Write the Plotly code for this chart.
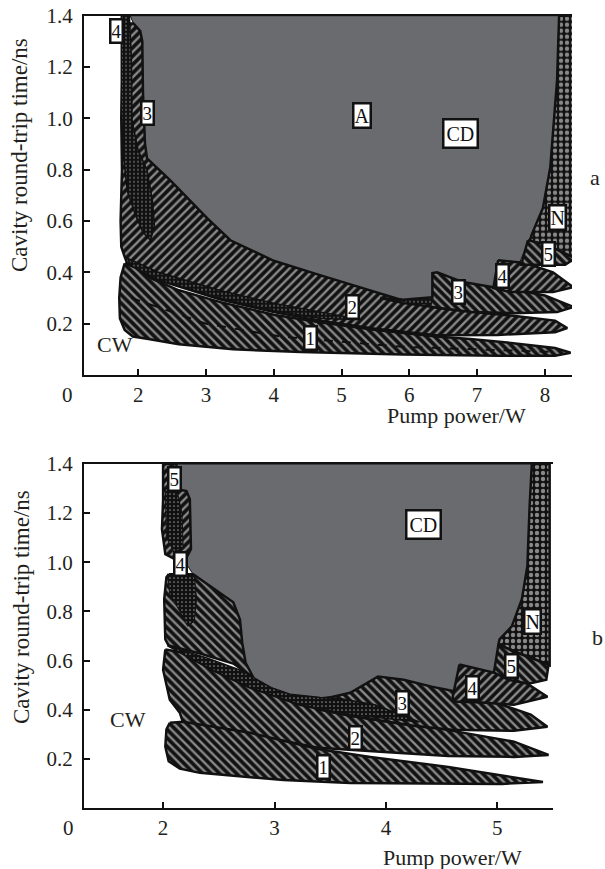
import plotly.graph_objects as go

# ---------------- data ----------------
# Panel a  (x: pump power / W, y: cavity round-trip time / ns)
GRAY_A_X = [1.88, 8.21, 8.18, 8.08, 7.97, 7.81, 7.74, 7.63, 7.31, 7.24, 6.79, 6.41, 6.34, 6.34, 5.91, 5.42, 4.68, 4.0, 3.36, 3.02, 2.47, 2.13, 2.10, 2.07, 2.06, 2.03, 1.93]
GRAY_A_Y = [1.40, 1.40, 1.15, 0.81, 0.65, 0.55, 0.51, 0.44, 0.447, 0.34, 0.362, 0.40, 0.397, 0.303, 0.29, 0.33, 0.389, 0.445, 0.525, 0.61, 0.759, 0.844, 0.90, 1.10, 1.30, 1.34, 1.37]

BAND2_A_X = [1.80, 1.86, 1.93, 2.03, 2.06, 2.07, 2.10, 2.13, 2.47, 3.02, 3.36, 4.0, 4.68, 5.42, 5.91, 6.4, 6.94, 7.5, 8.15, 8.33, 8.15, 7.3, 6.4, 5.5, 4.7, 4.0, 3.2, 2.3, 1.86, 1.80, 1.75, 1.74, 1.76, 1.75, 1.77]
BAND2_A_Y = [1.36, 1.37, 1.37, 1.34, 1.30, 1.10, 0.90, 0.844, 0.759, 0.61, 0.525, 0.445, 0.389, 0.33, 0.29, 0.262, 0.245, 0.232, 0.212, 0.183, 0.167, 0.156, 0.155, 0.18, 0.21, 0.245, 0.295, 0.37, 0.42, 0.46, 0.50, 0.60, 0.80, 1.00, 1.20]

BAND1_A_X = [1.80, 1.74, 1.72, 1.73, 1.80, 1.92, 2.15, 2.6, 3.4, 4.4, 5.9, 7.3, 8.15, 8.38, 8.15, 7.5, 6.9, 6.4, 5.5, 4.7, 4.0, 3.2, 2.6, 2.2, 1.95]
BAND1_A_Y = [0.435, 0.38, 0.30, 0.22, 0.175, 0.15, 0.14, 0.12, 0.10, 0.09, 0.08, 0.075, 0.075, 0.087, 0.105, 0.125, 0.14, 0.15, 0.175, 0.205, 0.235, 0.285, 0.33, 0.375, 0.42]

DASH_A_X = [1.9, 3.0, 4.1, 5.9, 8.1]
DASH_A_Y = [0.30, 0.20, 0.15, 0.11, 0.09]

DOT_THIN_A_X = [1.84, 2.3, 3.2, 4.0, 4.7, 5.3, 4.7, 4.0, 3.2, 2.3, 1.90]
DOT_THIN_A_Y = [0.455, 0.40, 0.33, 0.28, 0.245, 0.215, 0.22, 0.25, 0.30, 0.37, 0.425]

STRIP4_A_X = [1.75, 1.87, 1.90, 1.91, 2.0, 2.13, 2.21, 2.24, 2.18, 2.07, 1.96, 1.84, 1.79, 1.75, 1.75]
STRIP4_A_Y = [1.40, 1.40, 1.23, 0.99, 0.875, 0.80, 0.68, 0.58, 0.525, 0.556, 0.623, 0.716, 0.833, 1.03, 1.23]

BAND3_A_X = [5.57, 5.91, 6.34, 6.34, 6.41, 6.79, 7.24, 7.6, 8.0, 8.42, 8.18, 7.53, 6.94, 6.4, 5.91]
BAND3_A_Y = [0.30, 0.293, 0.303, 0.397, 0.40, 0.362, 0.342, 0.33, 0.31, 0.265, 0.245, 0.241, 0.245, 0.262, 0.28]

DOT3_A_X = [5.85, 6.33, 6.33, 6.0]
DOT3_A_Y = [0.292, 0.30, 0.275, 0.28]

BAND4_A_X = [7.31, 7.71, 8.12, 8.42, 8.12, 7.49, 7.24]
BAND4_A_Y = [0.447, 0.436, 0.40, 0.342, 0.323, 0.323, 0.339]

BAND5_A_X = [7.75, 8.0, 8.45, 8.3, 7.65]
BAND5_A_Y = [0.525, 0.51, 0.455, 0.43, 0.43]

N_A_X = [8.21, 8.45, 8.45, 7.75, 7.81, 7.97, 8.08, 8.18]
N_A_Y = [1.40, 1.40, 0.44, 0.50, 0.55, 0.65, 0.81, 1.15]

LABELS_A = ["4", "3", "A", "CD", "N", "5", "4", "3", "2", "1"]
LABELS_A_X = [1.68, 2.13, 5.30, 6.75, 8.18, 8.05, 7.38, 6.73, 5.16, 4.54]
LABELS_A_Y = [1.34, 1.02, 1.01, 0.94, 0.615, 0.47, 0.385, 0.323, 0.265, 0.144]

# Panel b
GRAY_B_X = [2.12, 5.31, 5.29, 5.27, 5.22, 5.13, 5.02, 5.01, 4.97, 4.66, 4.60, 4.41, 4.16, 3.93, 3.68, 3.41, 3.14, 2.97, 2.81, 2.74, 2.71, 2.69, 2.63, 2.27, 2.2, 2.25, 2.24, 2.12]
GRAY_B_Y = [1.40, 1.40, 1.229, 0.984, 0.849, 0.739, 0.686, 0.665, 0.551, 0.584, 0.453, 0.494, 0.522, 0.535, 0.461, 0.449, 0.461, 0.49, 0.531, 0.592, 0.673, 0.767, 0.837, 0.951, 1.0, 1.053, 1.257, 1.298]

STRIP5_B_X = [2.0, 2.12, 2.12, 2.21, 2.24, 2.25, 2.22, 2.11, 2.02, 1.99, 2.0]
STRIP5_B_Y = [1.40, 1.40, 1.298, 1.29, 1.257, 1.053, 1.029, 1.012, 1.033, 1.135, 1.257]
DOT5_B_X = [2.02, 2.12, 2.17, 2.18, 2.10, 2.03]
DOT5_B_Y = [1.30, 1.30, 1.20, 1.06, 1.04, 1.10]

BLOB4_B_X = [2.05, 2.27, 2.63, 2.69, 2.71, 2.74, 2.81, 2.63, 2.33, 2.05, 2.02, 2.01, 2.03]
BLOB4_B_Y = [0.951, 0.951, 0.837, 0.767, 0.673, 0.592, 0.531, 0.588, 0.629, 0.661, 0.686, 0.849, 0.939]
DOT4_B_X = [2.04, 2.28, 2.30, 2.28, 2.22, 2.15, 2.06]
DOT4_B_Y = [0.95, 0.95, 0.85, 0.76, 0.74, 0.80, 0.87]

BAND3_B_X = [3.45, 3.68, 3.93, 4.16, 4.41, 4.68, 5.04, 5.3, 5.45, 5.15, 4.59, 4.25, 3.68, 3.4]
BAND3_B_Y = [0.445, 0.469, 0.535, 0.522, 0.494, 0.469, 0.42, 0.38, 0.331, 0.314, 0.318, 0.335, 0.375, 0.40]

DOT3_B_X = [2.04, 2.4, 2.7, 2.85, 2.97, 3.14, 3.41, 3.6, 3.9, 4.3, 3.68, 3.23, 2.78, 2.45, 2.15]
DOT3_B_Y = [0.66, 0.61, 0.56, 0.52, 0.49, 0.463, 0.45, 0.445, 0.42, 0.35, 0.38, 0.42, 0.49, 0.56, 0.635]

BAND2_B_X = [2.02, 2.15, 2.45, 2.78, 3.23, 3.68, 4.25, 4.5, 5.15, 5.46, 5.15, 4.56, 3.95, 3.39, 2.78, 2.18, 2.15, 2.06, 2.0]
BAND2_B_Y = [0.645, 0.635, 0.56, 0.49, 0.42, 0.375, 0.335, 0.322, 0.27, 0.216, 0.208, 0.212, 0.229, 0.245, 0.30, 0.345, 0.388, 0.441, 0.563]

BAND1_B_X = [2.06, 2.18, 2.78, 3.39, 3.86, 4.56, 5.41, 5.04, 3.68, 3.08, 2.33, 2.15, 2.05, 2.02, 2.03]
BAND1_B_Y = [0.347, 0.351, 0.306, 0.24, 0.208, 0.167, 0.106, 0.098, 0.102, 0.114, 0.143, 0.16, 0.19, 0.25, 0.32]

BAND4_B_X = [4.66, 4.97, 5.22, 5.45, 5.15, 4.86, 4.61, 4.60]
BAND4_B_Y = [0.584, 0.551, 0.52, 0.453, 0.42, 0.429, 0.433, 0.453]

BAND5_B_X = [5.01, 5.15, 5.46, 5.44, 5.28, 5.10, 4.97]
BAND5_B_Y = [0.665, 0.637, 0.584, 0.522, 0.506, 0.522, 0.551]

N_B_X = [5.31, 5.47, 5.47, 5.15, 5.01, 5.02, 5.13, 5.22, 5.27, 5.29]
N_B_Y = [1.40, 1.40, 0.58, 0.637, 0.665, 0.686, 0.739, 0.849, 0.984, 1.229]

LABELS_B = ["5", "4", "CD", "N", "5", "4", "3", "2", "1"]
LABELS_B_X = [2.10, 2.16, 4.34, 5.32, 5.13, 4.78, 4.15, 3.73, 3.44]
LABELS_B_Y = [1.34, 0.995, 1.155, 0.76, 0.576, 0.49, 0.429, 0.286, 0.167]

X_TICKS_A = [2, 3, 4, 5, 6, 7, 8]
X_TICKS_B = [2, 3, 4, 5]
Y_TICKS = [0.2, 0.4, 0.6, 0.8, 1.0, 1.2, 1.4]

# ---------------- styles ----------------
FONT = "Liberation Serif"
TXT = "#231f20"
INK = "#111111"
GRAY = "#6a6b6f"


def hatch(shape):
    return dict(shape=shape, bgcolor=INK, fgcolor="white", size=6, solidity=0.4)


DOTS = dict(shape=".", bgcolor=INK, fgcolor="white", size=4, solidity=0.15)
GRID = dict(shape=".", bgcolor=INK, fgcolor="white", size=6, solidity=0.42)

fig = go.Figure()


def poly(x, y, ax, pattern=None, color=None, lw=2.5):
    xa, ya = ("x", "y") if ax == "a" else ("x2", "y2")
    kw = dict(x=x + [x[0]], y=y + [y[0]], mode="lines", fill="toself",
              line=dict(color=INK, width=lw), hoverinfo="skip",
              showlegend=False, xaxis=xa, yaxis=ya)
    if pattern is not None:
        kw["fillpattern"] = pattern
        kw["fillcolor"] = pattern["bgcolor"]
    else:
        kw["fillcolor"] = color
    fig.add_trace(go.Scatter(**kw))


# panel a
poly(GRAY_A_X, GRAY_A_Y, "a", color=GRAY, lw=1)
poly(N_A_X, N_A_Y, "a", pattern=GRID)
poly(BAND2_A_X, BAND2_A_Y, "a", pattern=hatch("/"))
poly(BAND1_A_X, BAND1_A_Y, "a", pattern=hatch("\\"))
poly(DOT_THIN_A_X, DOT_THIN_A_Y, "a", pattern=DOTS, lw=1.5)
poly(STRIP4_A_X, STRIP4_A_Y, "a", pattern=DOTS, lw=1.5)
poly(BAND3_A_X, BAND3_A_Y, "a", pattern=hatch("\\"))
poly(DOT3_A_X, DOT3_A_Y, "a", pattern=DOTS, lw=1)
poly(BAND4_A_X, BAND4_A_Y, "a", pattern=hatch("/"))
poly(BAND5_A_X, BAND5_A_Y, "a", pattern=hatch("\\"))
fig.add_trace(go.Scatter(x=DASH_A_X, y=DASH_A_Y, mode="lines", line=dict(color=INK, width=2, dash="dash"),
                         hoverinfo="skip", showlegend=False, xaxis="x", yaxis="y"))

# panel b
poly(GRAY_B_X, GRAY_B_Y, "b", color=GRAY, lw=1)
poly(N_B_X, N_B_Y, "b", pattern=GRID)
poly(STRIP5_B_X, STRIP5_B_Y, "b", pattern=hatch("/"))
poly(DOT5_B_X, DOT5_B_Y, "b", pattern=DOTS, lw=1)
poly(BLOB4_B_X, BLOB4_B_Y, "b", pattern=hatch("\\"))
poly(DOT4_B_X, DOT4_B_Y, "b", pattern=DOTS, lw=1)
poly(BAND2_B_X, BAND2_B_Y, "b", pattern=hatch("\\"))
poly(BAND1_B_X, BAND1_B_Y, "b", pattern=hatch("\\"))
poly(BAND3_B_X, BAND3_B_Y, "b", pattern=hatch("\\"))
poly(DOT3_B_X, DOT3_B_Y, "b", pattern=DOTS, lw=1.5)
poly(BAND4_B_X, BAND4_B_Y, "b", pattern=hatch("/"))
poly(BAND5_B_X, BAND5_B_Y, "b", pattern=hatch("\\"))

W, H = 605, 869


def xdom(l, r):
    return [l / W, r / W]


def ydom(b, t):
    return [1 - b / H, 1 - t / H]


axis_common = dict(showline=True, linecolor=INK, linewidth=2, ticks="inside", ticklen=6,
                   tickcolor=INK, tickwidth=1.5, showgrid=False, zeroline=False, automargin=False,
                   tickfont=dict(family=FONT, size=21, color=TXT))

fig.update_layout(
    width=W, height=H, margin=dict(l=0, r=0, t=0, b=0, autoexpand=False),
    paper_bgcolor="white", plot_bgcolor="white",
    xaxis=dict(domain=xdom(84, 572), range=[1.2, 8.4], tickvals=X_TICKS_A, anchor="y", mirror=True, **axis_common),
    yaxis=dict(domain=ydom(375, 15.7), range=[0, 1.4], tickvals=Y_TICKS, tickformat=".1f", anchor="x",
               ticklabelstandoff=5, **axis_common),
    xaxis2=dict(domain=xdom(84, 553), range=[1.29, 5.5], tickvals=X_TICKS_B, anchor="y2", mirror=True, **axis_common),
    yaxis2=dict(domain=ydom(808, 464), range=[0, 1.4], tickvals=Y_TICKS, tickformat=".1f", anchor="x2",
                ticklabelstandoff=5, **axis_common),
)

ann = []


def box_label(t, x, y, xr, yr):
    return dict(x=x, y=y, xref=xr, yref=yr, text=t, showarrow=False,
                xanchor="center", yanchor="middle",
                font=dict(family=FONT, size=20 if t.isalpha() else 19, color=INK),
                bgcolor="white", bordercolor=INK, borderwidth=2.5,
                borderpad=2 if t == "CD" else 0)


for t, x, y in zip(LABELS_A, LABELS_A_X, LABELS_A_Y):
    ann.append(box_label(t, x, y, "x", "y"))
for t, x, y in zip(LABELS_B, LABELS_B_X, LABELS_B_Y):
    ann.append(box_label(t, x, y, "x2", "y2"))

ann.append(dict(x=1.66, y=0.117, xref="x", yref="y", text="CW", showarrow=False,
                xanchor="center", yanchor="middle", font=dict(family=FONT, size=22, color=TXT)))
ann.append(dict(x=1.685, y=0.36, xref="x2", yref="y2", text="CW", showarrow=False,
                xanchor="center", yanchor="middle", font=dict(family=FONT, size=22, color=TXT)))


def px(xp, yp):
    return dict(x=xp / W, y=1 - yp / H, xref="paper", yref="paper", showarrow=False,
                xanchor="center", yanchor="middle")


ann.append(dict(**px(67, 395), text="0", font=dict(family=FONT, size=21, color=TXT)))
ann.append(dict(**px(68, 828), text="0", font=dict(family=FONT, size=21, color=TXT)))
ann.append(dict(**px(457, 415), text="Pump power/W", font=dict(family=FONT, size=22, color=TXT)))
ann.append(dict(**px(452, 857), text="Pump power/W", font=dict(family=FONT, size=22, color=TXT)))
ann.append(dict(**px(19, 155), text="Cavity round-trip time/ns", textangle=-90,
                font=dict(family=FONT, size=23, color=TXT)))
ann.append(dict(**px(21, 607), text="Cavity round-trip time/ns", textangle=-90,
                font=dict(family=FONT, size=23, color=TXT)))
ann.append(dict(**px(595, 177), text="a", font=dict(family=FONT, size=22, color=TXT)))
ann.append(dict(**px(597, 637), text="b", font=dict(family=FONT, size=22, color=TXT)))

fig.update_layout(annotations=ann)
fig.write_html("out.html", config={"displayModeBar": False},
               post_script="document.body.style.margin='0px';")
